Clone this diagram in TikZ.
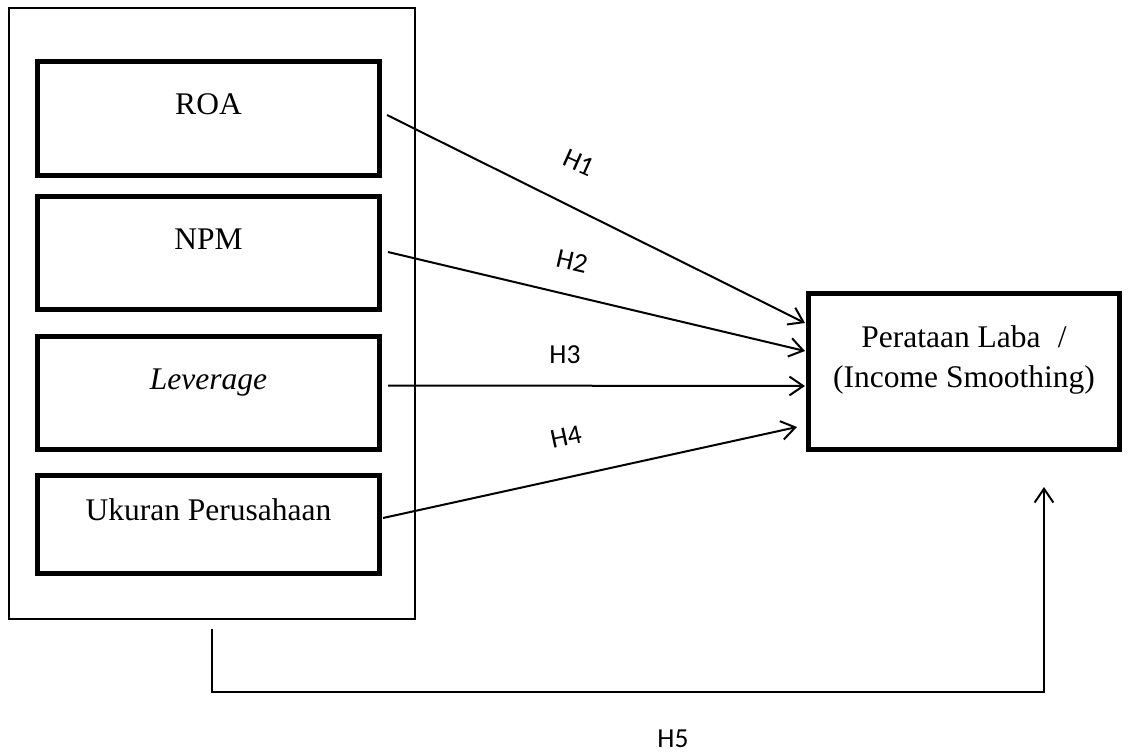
\documentclass[tikz,border=0pt]{standalone}
\usepackage{fontspec}
\setmainfont{Liberation Serif}
\newfontfamily\hypfont{Carlito}
\usepackage{tikz}
\usetikzlibrary{positioning}
\usetikzlibrary{arrows.meta}
\usetikzlibrary{calc}

\tikzset{
  varbox/.style={draw, line width=2pt, minimum width=136.8pt, text height=8pt, text depth=11.2pt},
  link/.style={->, line width=0.8pt},
  hyp/.style={font=\hypfont\fontsize{11}{13}\selectfont},
}

\begin{document}
\begin{tikzpicture}[x=0.4pt, y=-0.4pt, >={Straight Barb[length=5.5pt,width=7.5pt]},
    font=\fontsize{12.6}{16}\selectfont]
  \useasboundingbox (0,0) rectangle (1128,754);

  % variabel independen
  \node[draw, line width=0.7pt, minimum width=162.5pt, minimum height=244.5pt] (vars) at (212,313.5) {};
  \node[varbox, minimum height=45.6pt] (roa) at (208.5,118.5) {ROA};
  \node[varbox, minimum height=45.2pt] (npm) at (208.5,253) {NPM};
  \node[varbox, minimum height=45.2pt] (lev) at (208.5,393) {\textit{Leverage}};
  \node[varbox, minimum height=39.2pt] (uk) at (208.5,524.5) {Ukuran Perusahaan};

  % variabel dependen
  \node[draw, line width=2pt, minimum width=124.4pt, minimum height=62.4pt] (laba) at (964,371.5) {};
  \node[align=center] (labatext) at (964,360) {Perataan Laba\hspace{0.55em}/\\(Income Smoothing)};

  \draw[link] ($(roa.east)+(5,-3.5)$) -- ($(laba.west)+(-1,-48.5)$);
  \draw[link] ($(npm.east)+(6,-1)$) -- ($(laba.west)+(-1,-20.5)$);
  \draw[link] ($(lev.east)+(6,-7.5)$) -- ($(laba.west)+(-1,14.5)$);
  \draw[link] ($(uk.east)+(1,-6.5)$) -- ($(laba.west)+(-9,55.5)$);
  \draw[link] ($(vars.south)+(0,9)$) |- ($(laba.south)+(80,240)$) -- ($(laba.south)+(80,35)$);

  \node[hyp, rotate=-24] (h1) at (579,163) {H1};
  \node[hyp, rotate=-13] (h2) at (572,261) {H2};
  \node[hyp] (h3) at (565,355) {H3};
  \node[hyp, rotate=12] (h4) at (566,437) {H4};
  \node[hyp] (h5) at (673,739) {H5};
\end{tikzpicture}
\end{document}
